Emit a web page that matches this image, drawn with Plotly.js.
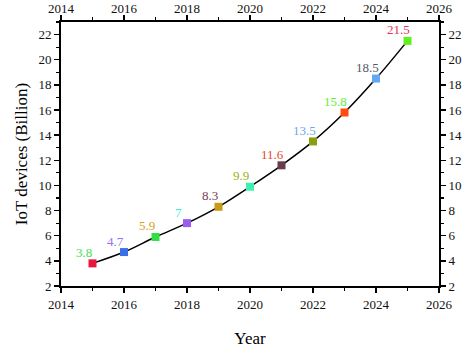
<!DOCTYPE html>
<html>
<head>
<meta charset="utf-8">
<script src="https://cdn.plot.ly/plotly-3.0.1.min.js"></script>
<style>html,body{margin:0;padding:0;background:#fff;}#chart{width:474px;height:353px;}</style>
</head>
<body>
<div id="chart"></div>
<script>
const years = [2015, 2016, 2017, 2018, 2019, 2020, 2021, 2022, 2023, 2024, 2025];
const devices = [3.8, 4.7, 5.9, 7, 8.3, 9.9, 11.6, 13.5, 15.8, 18.5, 21.5];
const labels = ["3.8", "4.7", "5.9", "7", "8.3", "9.9", "11.6", "13.5", "15.8", "18.5", "21.5"];
const markerColors = ["#e8163c", "#3a70e8", "#30e040", "#9a5cf0", "#c89a18", "#40f0b0", "#6a3a4e", "#88a010", "#ff4a10", "#60a8f0", "#60f020"];
const labelColors = ["#40e050", "#9a70f0", "#d8a020", "#40f0d0", "#7a3a50", "#a0b020", "#e84828", "#70a8e8", "#60ee30", "#505866", "#e8305a"];
const xTicks = [2014, 2016, 2018, 2020, 2022, 2024, 2026];
const yTicks = [2, 4, 6, 8, 10, 12, 14, 16, 18, 20, 22];

const fontFam = "Liberation Serif, serif";
const axisCommon = {
  showgrid: false, zeroline: false, showline: true, linecolor: "#000", linewidth: 2,
  ticks: "outside", ticklen: 5, tickwidth: 1.5, tickcolor: "#000",
  tickfont: {family: fontFam, size: 13, color: "#111"},
};
const xaxisBase = Object.assign({}, axisCommon, {
  range: [2014, 2026], tickvals: xTicks, ticktext: xTicks.map(String),
  minor: {dtick: 1, ticks: "outside", ticklen: 3, tickwidth: 1.2, tickcolor: "#000"}
});
const yaxisBase = Object.assign({}, axisCommon, {
  range: [2, 23], tickvals: yTicks, ticktext: yTicks.map(String),
  minor: {dtick: 1, ticks: "outside", ticklen: 3, tickwidth: 1.2, tickcolor: "#000"}
});

const traces = [
  {x: years, y: devices, type: "scatter", mode: "lines", line: {color: "#000", width: 1.5, shape: "spline"}, hoverinfo: "skip", showlegend: false},
  {x: years, y: devices, type: "scatter", mode: "markers", marker: {symbol: "square", size: 8, color: markerColors}, showlegend: false},
  {x: years, y: devices, type: "scatter", mode: "markers", xaxis: "x2", yaxis: "y2", marker: {opacity: 0}, hoverinfo: "skip", showlegend: false}
];

const annotations = years.map((yr, i) => ({
  x: yr, y: devices[i], xref: "x", yref: "y", text: labels[i], showarrow: false,
  xshift: -9, yshift: 11, font: {family: fontFam, size: 13, color: labelColors[i]}
}));

const layout = {
  width: 474, height: 353,
  margin: {l: 61, r: 35, t: 22, b: 67},
  paper_bgcolor: "#fff", plot_bgcolor: "#fff",
  font: {family: fontFam},
  xaxis: Object.assign({}, xaxisBase, {side: "bottom",
    title: {text: "Year", font: {family: fontFam, size: 17, color: "#000"}, standoff: 22}}),
  yaxis: Object.assign({}, yaxisBase, {side: "left",
    title: {text: "IoT devices (Billion)", font: {family: fontFam, size: 17, color: "#000"}, standoff: 6}}),
  xaxis2: Object.assign({}, xaxisBase, {side: "top", overlaying: "x", anchor: "y2", ticklabelstandoff: -3}),
  yaxis2: Object.assign({}, yaxisBase, {side: "right", overlaying: "y", anchor: "x2"}),
  annotations: annotations,
  showlegend: false
};

Plotly.newPlot("chart", traces, layout, {displayModeBar: false, staticPlot: true});
</script>
</body>
</html>
